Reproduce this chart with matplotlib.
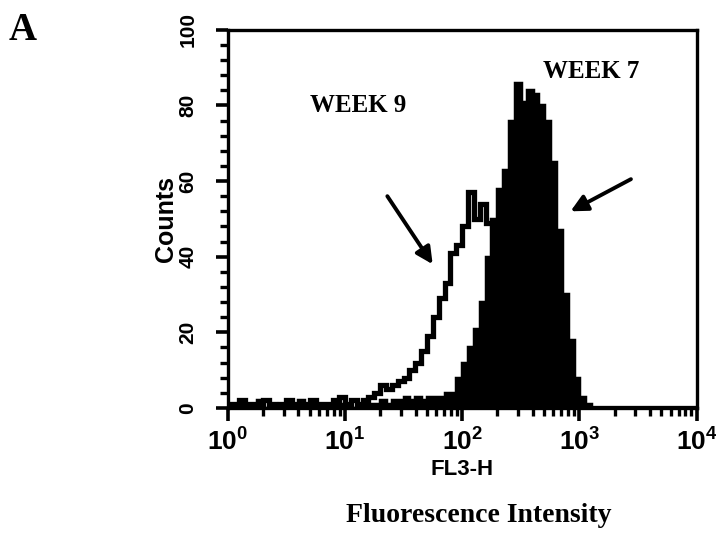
import numpy as np
import matplotlib.pyplot as plt
from matplotlib.ticker import MultipleLocator, LogLocator

# channel edges every 0.05 decade from 10^0 to 10^4 (80 channels)
log_start = 0.0
log_step = 0.05

week9 = [1, 0, 2, 1, 1, 0, 2, 1, 0, 1, 2, 1, 0, 1, 2, 0, 1, 1, 2, 3,
         1, 2, 1, 2, 3, 4, 6, 5, 6, 7, 8, 10, 12, 15, 19, 24, 29, 33, 41, 43,
         48, 57, 50, 54, 49, 49, 45, 40, 34, 28, 22, 17, 12, 8, 5, 3, 2, 1, 0, 0,
         0, 0, 0, 0, 0, 0, 0, 0, 0, 0, 0, 0, 0, 0, 0, 0, 0, 0, 0, 0]
week7 = [0, 1, 1, 0, 1, 2, 0, 1, 1, 0, 1, 1, 2, 0, 1, 1, 0, 1, 2, 1,
         1, 0, 1, 2, 1, 1, 2, 1, 2, 2, 3, 2, 3, 2, 3, 3, 3, 4, 4, 8,
         12, 16, 21, 28, 40, 50, 58, 63, 76, 86, 81, 84, 83, 80, 76, 65, 47, 30, 18, 8,
         3, 1, 0, 0, 0, 0, 0, 0, 0, 0, 0, 0, 0, 0, 0, 0, 0, 0, 0, 0]

plt.rcParams['font.family'] = ['Liberation Sans', 'DejaVu Sans']
plt.rcParams['font.weight'] = 'bold'

edges = 10 ** (log_start + log_step * np.arange(len(week9) + 1))

fig = plt.figure(figsize=(7.16, 5.52), dpi=100)
ax = fig.add_axes([0.318, 0.261, 0.655, 0.685])

# filled histogram (week 7)
ax.stairs(week7, edges, fill=True, color='black', baseline=0)
ax.stairs(week7, edges, color='black', linewidth=2.5, baseline=0)
# outline histogram (week 9)
ax.stairs(week9, edges, color='black', linewidth=3.8, baseline=None)

ax.set_xscale('log')
ax.set_xlim(1, 1e4)
ax.set_ylim(0, 100)

ax.yaxis.set_major_locator(MultipleLocator(20))
ax.yaxis.set_minor_locator(MultipleLocator(4))
ax.xaxis.set_major_locator(LogLocator(base=10))
ax.xaxis.set_minor_locator(LogLocator(base=10, subs=np.arange(2, 10)))

for s in ax.spines.values():
    s.set_linewidth(2.4)

ax.tick_params(which='major', direction='out', length=9, width=2.6)
ax.tick_params(which='minor', direction='out', length=6, width=2.4)
ax.tick_params(axis='x', labelsize=19, pad=6)
ax.tick_params(axis='y', labelsize=15, pad=13)
for lab in ax.get_yticklabels():
    lab.set_rotation(90)
    lab.set_va('center')

ax.set_ylabel('Counts', fontsize=18, fontweight='bold', labelpad=0)
ax.set_xlabel('FL3-H', fontsize=16, fontweight='bold', labelpad=2)

ax.text(13, 80, 'WEEK 9', fontsize=18, fontweight='bold', family='Liberation Serif',
        ha='center', va='center')
ax.text(1250, 89, 'WEEK 7', fontsize=18, fontweight='bold', family='Liberation Serif',
        ha='center', va='center')

arrow = dict(arrowstyle='-|>,head_length=1.0,head_width=0.5', color='black', lw=2.8,
             shrinkA=0, shrinkB=0)
ax.annotate('', xy=(56, 38), xytext=(23, 56), arrowprops=arrow)
ax.annotate('', xy=(840, 52), xytext=(2750, 60.5), arrowprops=arrow)

fig.text(0.031, 0.945, 'A', fontsize=28, fontweight='bold', family='Liberation Serif',
         ha='center', va='center')
fig.text(0.668, 0.067, 'Fluorescence Intensity', fontsize=20, fontweight='bold',
         family='Liberation Serif', ha='center', va='center')

fig.savefig('out.png', dpi=100)
